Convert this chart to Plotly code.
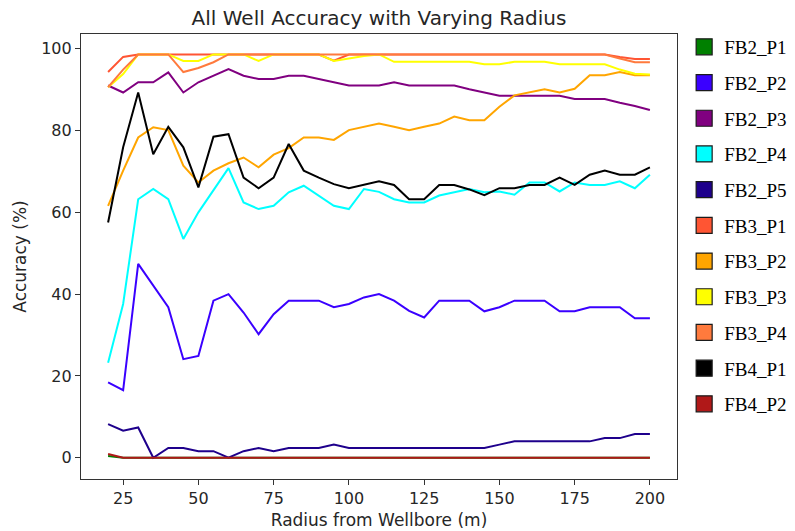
import plotly.graph_objects as go

radius = list(range(20, 205, 5))

series_names = ["FB2_P1", "FB2_P2", "FB2_P3", "FB2_P4", "FB2_P5",
                "FB3_P1", "FB3_P2", "FB3_P3", "FB3_P4", "FB4_P1", "FB4_P2"]

fb2_p1 = [0.4] + [0.0] * 36
fb2_p2 = [18.4, 16.5, 47.4, 42.1, 36.8, 24.1, 24.9, 38.4, 40.0, 35.5,
          30.2, 35.1, 38.4, 38.4, 38.4, 36.8, 37.6, 39.2, 40.0, 38.4,
          35.9, 34.3, 38.4, 38.4, 38.4, 35.8, 36.8, 38.4, 38.4, 38.4,
          35.8, 35.8, 36.8, 36.8, 36.8, 34.1, 34.1]
fb2_p3 = [91.0, 89.3, 91.8, 91.8, 94.2, 89.3, 91.8, 93.4, 95.0, 93.4,
          92.6, 92.6, 93.4, 93.4, 92.6, 91.8, 91.0, 91.0, 91.0, 91.8,
          91.0, 91.0, 91.0, 91.0, 90.1, 89.3, 88.5, 88.5, 88.5, 88.5,
          88.5, 87.7, 87.7, 87.7, 86.8, 86.0, 85.0]
fb2_p4 = [23.2, 37.6, 63.2, 65.7, 63.2, 53.5, 60.0, 65.3, 70.8, 62.4,
          60.8, 61.6, 64.9, 66.5, 64.1, 61.6, 60.8, 65.7, 65.0, 63.2,
          62.4, 62.4, 64.1, 64.9, 65.7, 64.9, 65.1, 64.3, 67.3, 67.3,
          65.1, 67.3, 66.7, 66.7, 67.6, 65.9, 69.2]
fb2_p5 = [8.2, 6.6, 7.4, 0.0, 2.4, 2.4, 1.6, 1.6, 0.0, 1.6,
          2.4, 1.6, 2.4, 2.4, 2.4, 3.2, 2.4, 2.4, 2.4, 2.4,
          2.4, 2.4, 2.4, 2.4, 2.4, 2.4, 3.2, 4.0, 4.0, 4.0,
          4.0, 4.0, 4.0, 4.8, 4.8, 5.8, 5.8]
fb3_p1 = [94.3, 98.0, 98.6, 98.6, 98.6, 98.6, 98.6, 98.6, 98.6, 98.6,
          98.6, 98.6, 98.6, 98.6, 98.6, 97.1, 98.6, 98.6, 98.6, 98.6,
          98.6, 98.6, 98.6, 98.6, 98.6, 98.6, 98.6, 98.6, 98.6, 98.6,
          98.6, 98.6, 98.6, 98.6, 98.0, 97.5, 97.5]
fb3_p2 = [61.6, 70.2, 78.3, 80.8, 80.1, 71.4, 67.3, 70.2, 72.0, 73.4,
          71.0, 74.1, 75.7, 78.3, 78.3, 77.7, 80.1, 80.9, 81.7, 80.9,
          80.1, 80.9, 81.7, 83.4, 82.5, 82.5, 85.8, 88.6, 89.4, 90.1,
          89.3, 90.2, 93.5, 93.5, 94.3, 93.5, 93.5]
fb3_p3 = [90.6, 93.8, 98.6, 98.6, 98.6, 97.0, 97.0, 98.6, 98.6, 98.6,
          97.0, 98.6, 98.6, 98.6, 98.6, 97.0, 97.6, 98.2, 98.6, 96.8,
          96.8, 96.8, 96.8, 96.8, 96.8, 96.2, 96.2, 96.8, 96.8, 96.8,
          96.2, 96.2, 96.2, 96.2, 94.9, 93.9, 93.7]
fb3_p4 = [90.6, 94.9, 98.6, 98.6, 98.6, 94.3, 95.3, 96.7, 98.6, 98.6,
          98.6, 98.6, 98.6, 98.6, 98.6, 98.6, 98.6, 98.6, 98.6, 98.6,
          98.6, 98.6, 98.6, 98.6, 98.6, 98.6, 98.6, 98.6, 98.6, 98.6,
          98.6, 98.6, 98.6, 98.6, 97.6, 96.7, 96.7]
fb4_p1 = [57.5, 75.9, 89.3, 74.2, 80.9, 75.9, 66.1, 78.5, 79.1, 68.5,
          65.9, 68.5, 76.7, 70.2, 68.5, 66.9, 65.9, 66.7, 67.6, 66.7,
          63.2, 63.2, 66.7, 66.7, 65.6, 64.2, 65.9, 65.9, 66.7, 66.7,
          68.5, 66.7, 69.2, 70.2, 69.2, 69.2, 71.0]
fb4_p2 = [0.9] + [0.0] * 36

series_values = [fb2_p1, fb2_p2, fb2_p3, fb2_p4, fb2_p5,
                 fb3_p1, fb3_p2, fb3_p3, fb3_p4, fb4_p1, fb4_p2]

colors = ["#008000", "#3A00FF", "#800080", "#00FFFF", "#1E008C",
          "#FF5533", "#FFA500", "#FFFF00", "#FF7A3D", "#000000", "#B01818"]

x_ticks = [25, 50, 75, 100, 125, 150, 175, 200]
y_ticks = [0, 20, 40, 60, 80, 100]

fig = go.Figure()
for name, vals, col in zip(series_names, series_values, colors):
    fig.add_trace(go.Scatter(x=radius, y=vals, mode="lines", name=name,
                             line=dict(color=col, width=2), showlegend=False,
                             legendgroup=name))
for name, col in zip(series_names, colors):
    fig.add_trace(go.Scatter(x=[None], y=[None], mode="markers", name=name,
                             legendgroup=name, showlegend=True,
                             marker=dict(symbol="square", size=16, color=col,
                                         line=dict(color="#1a1a1a", width=1.2))))

axis_common = dict(showline=True, linecolor="#333333", linewidth=1.2, mirror=True,
                   ticks="outside", ticklen=5, tickwidth=1.2, tickcolor="#333333",
                   showgrid=False, zeroline=False,
                   tickfont=dict(family="DejaVu Sans", size=16, color="#262626"),
                   title_font=dict(family="DejaVu Sans", size=17, color="#262626"))

fig.update_layout(
    width=795, height=531,
    margin=dict(l=81, r=118, t=34, b=52, autoexpand=False),
    paper_bgcolor="white", plot_bgcolor="white",
    title=dict(text="All Well Accuracy with Varying Radius", x=(81 + 677) / 2 / 795,
               xanchor="center", y=1 - 18 / 531, yanchor="middle",
               font=dict(family="DejaVu Sans", size=20, color="#262626")),
    xaxis=dict(range=[11, 209], tickvals=x_ticks,
               title=dict(text="Radius from Wellbore (m)", standoff=6), **axis_common),
    yaxis=dict(range=[-5.2, 103.6], tickvals=y_ticks,
               title=dict(text="Accuracy (%)", standoff=10), **axis_common),
    legend=dict(x=1.012, y=1 - 28 / 531, xanchor="left", yanchor="top",
                yref="container", maxheight=500,
                font=dict(family="Liberation Serif", size=19, color="black"),
                tracegroupgap=8, bgcolor="rgba(0,0,0,0)"),
)

fig.write_html("out.html")
